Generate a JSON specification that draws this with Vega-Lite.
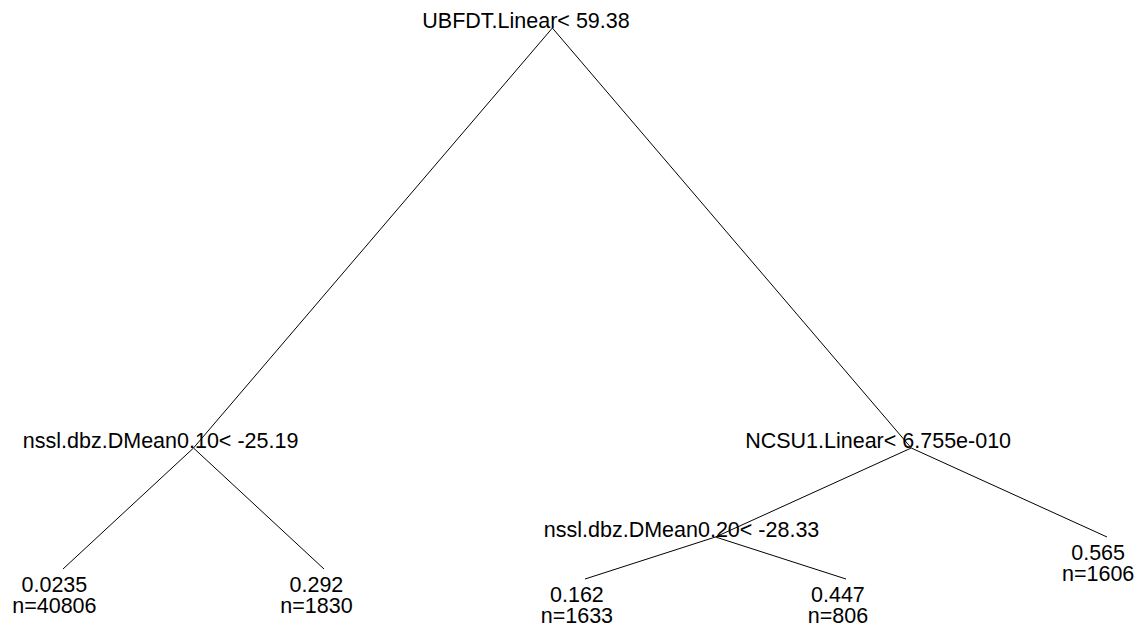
{
  "$schema": "https://vega.github.io/schema/vega-lite/v6.json",
  "width": 1145,
  "height": 631,
  "padding": 0,
  "autosize": {"type": "none"},
  "background": "white",
  "config": {
    "view": {"stroke": null},
    "text": {"font": "Liberation Sans", "fontSize": 21.5, "color": "black"}
  },
  "datasets": {
    "edges": [
      {"from": "root", "to": "node2", "x": 2.875, "y": 1.0, "x2": 1.5, "y2": 0.23775},
      {"from": "root", "to": "node3", "x": 2.875, "y": 1.0, "x2": 4.25, "y2": 0.23775},
      {"from": "node2", "to": "leaf4", "x": 1.5, "y": 0.23775, "x2": 1.0, "y2": 0.01815},
      {"from": "node2", "to": "leaf5", "x": 1.5, "y": 0.23775, "x2": 2.0, "y2": 0.01815},
      {"from": "node3", "to": "node6", "x": 4.25, "y": 0.23775, "x2": 3.5, "y2": 0.07623},
      {"from": "node3", "to": "leaf7", "x": 4.25, "y": 0.23775, "x2": 5.0, "y2": 0.07623},
      {"from": "node6", "to": "leaf12", "x": 3.5, "y": 0.07623, "x2": 3.0, "y2": 0.0},
      {"from": "node6", "to": "leaf13", "x": 3.5, "y": 0.07623, "x2": 4.0, "y2": 0.0}
    ],
    "splits": [
      {"node": "root", "y": 1.0, "lx": 2.774, "label": "UBFDT.Linear< 59.38"},
      {"node": "node2", "y": 0.23775, "lx": 1.374, "label": "nssl.dbz.DMean0.10< -25.19"},
      {"node": "node3", "y": 0.23775, "lx": 4.123, "label": "NCSU1.Linear< 6.755e-010"},
      {"node": "node6", "y": 0.07623, "lx": 3.37, "label": "nssl.dbz.DMean0.20< -28.33"}
    ],
    "leaves": [
      {"node": "leaf4", "y": 0.01815, "lx": 0.967, "yval": "0.0235", "n": "n=40806"},
      {"node": "leaf5", "y": 0.01815, "lx": 1.971, "yval": "0.292", "n": "n=1830"},
      {"node": "leaf12", "y": 0.0, "lx": 2.969, "yval": "0.162", "n": "n=1633"},
      {"node": "leaf13", "y": 0.0, "lx": 3.969, "yval": "0.447", "n": "n=806"},
      {"node": "leaf7", "y": 0.07623, "lx": 4.966, "yval": "0.565", "n": "n=1606"}
    ]
  },
  "encoding": {
    "x": {"type": "quantitative", "scale": {"domain": [0.75862, 5.14559], "nice": false, "zero": false}, "axis": null},
    "y": {"type": "quantitative", "scale": {"domain": [-0.09437, 1.05082], "nice": false, "zero": false}, "axis": null}
  },
  "layer": [
    {
      "data": {"name": "edges"},
      "mark": {"type": "rule", "color": "black", "strokeWidth": 1},
      "encoding": {
        "x": {"field": "x", "type": "quantitative"},
        "y": {"field": "y", "type": "quantitative"},
        "x2": {"field": "x2"},
        "y2": {"field": "y2"}
      }
    },
    {
      "data": {"name": "splits"},
      "mark": {"type": "text", "align": "center", "baseline": "alphabetic"},
      "encoding": {
        "x": {"field": "lx", "type": "quantitative"},
        "y": {"field": "y", "type": "quantitative"},
        "text": {"field": "label"}
      }
    },
    {
      "data": {"name": "leaves"},
      "mark": {"type": "text", "align": "center", "baseline": "alphabetic", "dy": 23},
      "encoding": {
        "x": {"field": "lx", "type": "quantitative"},
        "y": {"field": "y", "type": "quantitative"},
        "text": {"field": "yval"}
      }
    },
    {
      "data": {"name": "leaves"},
      "mark": {"type": "text", "align": "center", "baseline": "alphabetic", "dy": 44},
      "encoding": {
        "x": {"field": "lx", "type": "quantitative"},
        "y": {"field": "y", "type": "quantitative"},
        "text": {"field": "n"}
      }
    }
  ]
}
